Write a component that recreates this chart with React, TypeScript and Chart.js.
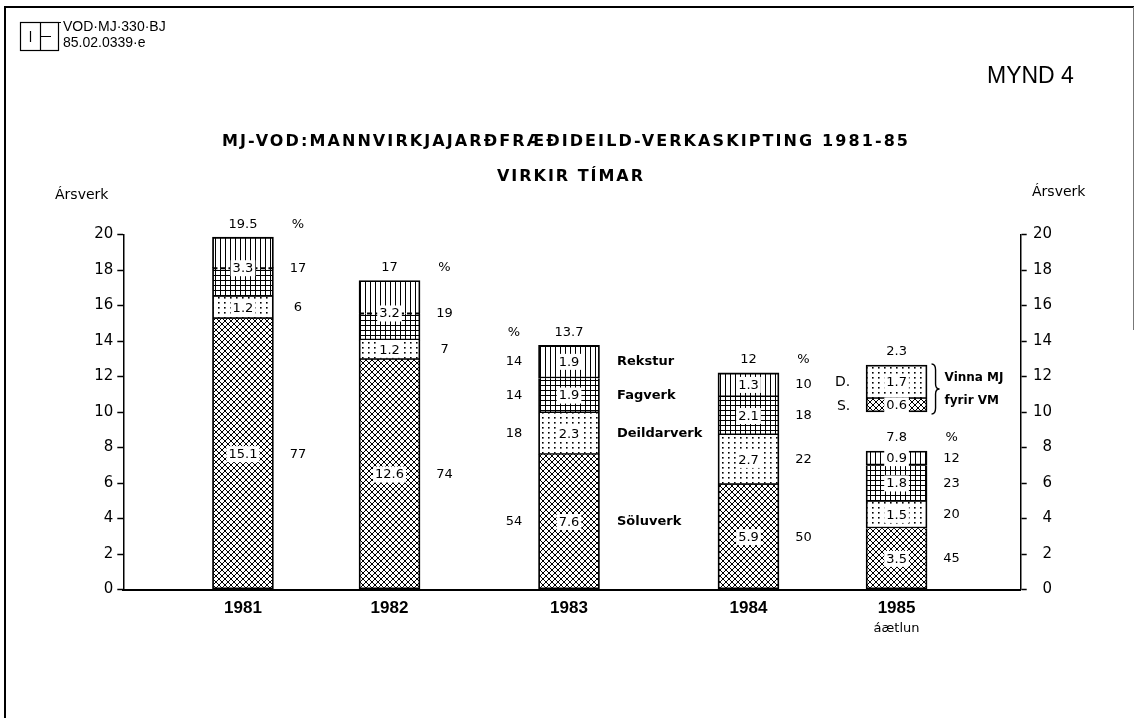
import React, { useEffect, useRef } from 'react';
import { Chart, registerables } from 'chart.js';

Chart.register(...registerables);

// ---------------- data ----------------
const years = ['1981', '1982', '1983', '1984', '1985'];
// drawn segment heights (ársverk)
const soluverk = [15.25, 12.95, 7.6, 5.9, 3.45];
const deildarverk = [1.25, 1.1, 2.35, 2.8, 1.5];
const fagverk = [1.6, 1.5, 1.95, 2.15, 2.05];
const rekstur = [1.75, 1.85, 1.85, 1.35, 0.8];
// 1985 "Vinna MJ fyrir VM" floating bar
const vmStart = 10;
const vmSoluverk = 0.75;
const vmDeildarverk = 1.9;

// printed labels
const soluText = ['15.1', '12.6', '7.6', '5.9', '3.5'];
const deildText = ['1.2', '1.2', '2.3', '2.7', '1.5'];
const fagText = ['3.3', '3.2', '1.9', '2.1', '1.8'];
const rekText: (string | null)[] = [null, null, '1.9', '1.3', '0.9'];
const totalText = ['19.5', '17', '13.7', '12', '7.8'];
const pctSolu = ['77', '74', '54', '50', '45'];
const pctDeild = ['6', '7', '18', '22', '20'];
const pctFag = ['17', '19', '14', '18', '23'];
const pctRek: (string | null)[] = [null, null, '14', '10', '12'];
const vmText = ['0.6', '1.7', '2.3'];
const categoryNames = ['Söluverk', 'Deildarverk', 'Fagverk', 'Rekstur'];

// ---------------- layout / style ----------------
const slots = [4, 8.9, 14.9, 20.9, 25.85];
const X_MAX = 30;
const BAR_W = 61;
const pctSide = [1, 1, -1, 1, 1];
const NAME_BAR = 2;
const VM_BAR = 4;
const DV = '"DejaVu Sans", sans-serif';
const LS = '"Liberation Sans", Arial, sans-serif';

const segs = [soluverk, deildarverk, fagverk, rekstur];
const bounds = years.map((_, i) => {
  const b = [0];
  let acc = 0;
  segs.forEach((s) => {
    acc += s[i];
    b.push(acc);
  });
  return b;
});

function makePattern(kind: string): CanvasPattern | string {
  const c = document.createElement('canvas');
  const size: Record<string, [number, number]> = {
    cross: [6, 6],
    dots: [6, 5],
    grid: [5, 5],
    vert: [5, 5],
  };
  const [w, h] = size[kind];
  c.width = w;
  c.height = h;
  const g = c.getContext('2d')!;
  g.fillStyle = '#fff';
  g.fillRect(0, 0, w, h);
  g.strokeStyle = '#000';
  g.fillStyle = '#000';
  g.lineWidth = 1;
  g.beginPath();
  if (kind === 'cross') {
    for (let o = -w; o <= w; o += w) {
      g.moveTo(o, 0);
      g.lineTo(o + w, h);
      g.moveTo(o + w, 0);
      g.lineTo(o, h);
    }
    g.stroke();
  } else if (kind === 'dots') {
    g.fillRect(2, 2, 1.6, 1.6);
  } else if (kind === 'grid') {
    g.moveTo(0.5, 0);
    g.lineTo(0.5, h);
    g.moveTo(0, 0.5);
    g.lineTo(w, 0.5);
    g.stroke();
  } else {
    g.moveTo(0.5, 0);
    g.lineTo(0.5, h);
    g.stroke();
  }
  const p = g.createPattern(c, 'repeat');
  return p || '#888';
}

function text(ctx: CanvasRenderingContext2D, s: string, x: number, y: number, font: string, align: CanvasTextAlign = 'center') {
  ctx.font = font;
  ctx.textAlign = align;
  ctx.textBaseline = 'middle';
  ctx.fillStyle = '#000';
  ctx.fillText(s, x, y);
}

function boxed(ctx: CanvasRenderingContext2D, s: string, x: number, y: number) {
  ctx.font = `13px ${DV}`;
  const w = ctx.measureText(s).width;
  ctx.fillStyle = '#fff';
  ctx.fillRect(x - w / 2 - 2, y - 8, w + 4, 16);
  text(ctx, s, x, y + 0.5, `13px ${DV}`);
}

function spaced(ctx: CanvasRenderingContext2D, s: string, x: number, y: number, font: string, width: number) {
  const anyCtx = ctx as any;
  ctx.font = font;
  anyCtx.letterSpacing = '0px';
  const natural = ctx.measureText(s).width;
  const n = Array.from(s).length;
  const sp = n > 1 ? (width - natural) / (n - 1) : 0;
  anyCtx.letterSpacing = `${sp}px`;
  ctx.textAlign = 'left';
  ctx.textBaseline = 'middle';
  ctx.fillStyle = '#000';
  ctx.fillText(s, x, y);
  anyCtx.letterSpacing = '0px';
}

const annotPlugin = {
  id: 'annot',
  beforeDraw(chart: any) {
    const ctx = chart.ctx;
    ctx.save();
    ctx.fillStyle = '#fff';
    ctx.fillRect(0, 0, chart.width, chart.height);
    ctx.restore();
  },
  afterDatasetsDraw(chart: any) {
    const ctx: CanvasRenderingContext2D = chart.ctx;
    const xs = chart.scales.x;
    const ys = chart.scales.y;
    const X = (v: number) => xs.getPixelForValue(v);
    const Y = (v: number) => ys.getPixelForValue(v);
    const mid = (a: number, b: number) => (Y(a) + Y(b)) / 2;
    ctx.save();
    years.forEach((_, i) => {
      const cx = X(slots[i]);
      const b = bounds[i];
      const combined = rekText[i] == null;
      if (combined) {
        ctx.strokeStyle = '#000';
        ctx.lineWidth = 1.8;
        ctx.setLineDash([5, 3]);
        ctx.beginPath();
        ctx.moveTo(cx - BAR_W / 2, Y(b[3]));
        ctx.lineTo(cx + BAR_W / 2, Y(b[3]));
        ctx.stroke();
        ctx.setLineDash([]);
      }
      boxed(ctx, soluText[i], cx, mid(b[0], b[1]));
      boxed(ctx, deildText[i], cx, mid(b[1], b[2]));
      if (combined) {
        boxed(ctx, fagText[i], cx, Y(b[3]));
      } else {
        boxed(ctx, fagText[i], cx, mid(b[2], b[3]));
        boxed(ctx, rekText[i] as string, cx, mid(b[3], b[4]));
      }
      const px = cx + pctSide[i] * 55;
      const pf = `13px ${DV}`;
      text(ctx, pctSolu[i], px, mid(b[0], b[1]), pf);
      text(ctx, pctDeild[i], px, mid(b[1], b[2]), pf);
      if (combined) {
        text(ctx, pctFag[i], px, Y(b[3]), pf);
      } else {
        text(ctx, pctFag[i], px, mid(b[2], b[3]), pf);
        text(ctx, pctRek[i] as string, px, mid(b[3], b[4]), pf);
      }
      const ty = Y(b[4]) - 13;
      text(ctx, totalText[i], cx, ty, `13px ${DV}`);
      text(ctx, '%', px, ty, `13px ${DV}`);
    });

    // category names beside the 1983 bar
    const nb = bounds[NAME_BAR];
    const nx = X(slots[NAME_BAR]) + 48;
    categoryNames.forEach((nm, k) => {
      text(ctx, nm, nx, mid(nb[k], nb[k + 1]), `bold 13px ${DV}`, 'left');
    });

    // VM floating bar labels
    const vx = X(slots[VM_BAR]);
    const v0 = vmStart;
    const v1 = vmStart + vmSoluverk;
    const v2 = v1 + vmDeildarverk;
    boxed(ctx, vmText[0], vx, mid(v0, v1));
    boxed(ctx, vmText[1], vx, mid(v1, v2));
    text(ctx, vmText[2], vx, Y(v2) - 13, `13px ${DV}`);
    text(ctx, 'D.', vx - 54, mid(v1, v2) + 1, `14px ${DV}`);
    text(ctx, 'S.', vx - 53, mid(v0, v1) + 1, `14px ${DV}`);
    // brace
    const bx = vx + 35;
    const yt = Y(v2) - 1;
    const yb = Y(v0) + 2;
    const ym = (yt + yb) / 2;
    ctx.strokeStyle = '#000';
    ctx.lineWidth = 1.4;
    ctx.beginPath();
    ctx.moveTo(bx, yt);
    ctx.quadraticCurveTo(bx + 4, yt, bx + 4, yt + 6);
    ctx.lineTo(bx + 4, ym - 5);
    ctx.quadraticCurveTo(bx + 4, ym, bx + 8, ym);
    ctx.quadraticCurveTo(bx + 4, ym, bx + 4, ym + 5);
    ctx.lineTo(bx + 4, yb - 6);
    ctx.quadraticCurveTo(bx + 4, yb, bx, yb);
    ctx.stroke();
    text(ctx, 'Vinna MJ', vx + 48, ym - 11.5, `bold 12px ${DV}`, 'left');
    text(ctx, 'fyrir VM', vx + 48, ym + 12, `bold 12px ${DV}`, 'left');
    ctx.restore();
  },
  afterDraw(chart: any) {
    const ctx: CanvasRenderingContext2D = chart.ctx;
    const xs = chart.scales.x;
    ctx.save();
    // frame
    ctx.strokeStyle = '#000';
    ctx.lineWidth = 2;
    ctx.beginPath();
    ctx.moveTo(5, 718);
    ctx.lineTo(5, 7);
    ctx.lineTo(1134, 7);
    ctx.stroke();
    ctx.strokeStyle = '#777';
    ctx.lineWidth = 1;
    ctx.beginPath();
    ctx.moveTo(1133.5, 7);
    ctx.lineTo(1133.5, 330);
    ctx.stroke();
    // logo
    ctx.strokeStyle = '#000';
    ctx.lineWidth = 1.2;
    ctx.strokeRect(20.5, 22.5, 38, 28);
    ctx.beginPath();
    ctx.moveTo(40.5, 22.5);
    ctx.lineTo(40.5, 50.5);
    ctx.moveTo(30.5, 31);
    ctx.lineTo(30.5, 42);
    ctx.moveTo(40.5, 36.5);
    ctx.lineTo(51, 36.5);
    ctx.moveTo(58.5, 22.5);
    ctx.lineTo(61, 22.5);
    ctx.stroke();
    text(ctx, 'VOD·MJ·330·BJ', 63, 27, `14px ${LS}`, 'left');
    text(ctx, '85.02.0339·e', 63, 43, `14px ${LS}`, 'left');
    // heading texts
    text(ctx, 'MYND 4', 987, 77, `23px ${LS}`, 'left');
    spaced(ctx, 'MJ-VOD:MANNVIRKJAJARÐFRÆÐIDEILD-VERKASKIPTING 1981-85', 222, 142, `bold 16px ${DV}`, 686);
    spaced(ctx, 'VIRKIR TÍMAR', 497, 177, `bold 16px ${DV}`, 146);
    text(ctx, 'Ársverk', 55, 195, `14px ${DV}`, 'left');
    text(ctx, 'Ársverk', 1032, 192, `14px ${DV}`, 'left');
    text(ctx, 'áætlun', xs.getPixelForValue(slots[VM_BAR]), 629, `13px ${DV}`);
    ctx.restore();
  },
};

export default function App() {
  const ref = useRef<HTMLCanvasElement | null>(null);
  useEffect(() => {
    document.body.style.margin = '0';
    const canvas = ref.current!;
    const pCross = makePattern('cross');
    const pDots = makePattern('dots');
    const pGrid = makePattern('grid');
    const pVert = makePattern('vert');
    const patterns = [pCross, pDots, pGrid, pVert];

    const common = {
      borderColor: '#000',
      borderWidth: 1.8,
      barThickness: BAR_W,
      grouped: false,
    };
    const datasets: any[] = segs.map((_, k) => ({
      ...common,
      label: categoryNames[k],
      backgroundColor: patterns[k],
      borderSkipped:
        k < 3 ? 'top' : (c: any) => (rekText[c.dataIndex] == null ? 'bottom' : false),
      data: years.map((_, i) => ({ x: slots[i], y: [bounds[i][k], bounds[i][k + 1]] })),
    }));
    datasets.push({
      ...common,
      label: 'VM S',
      backgroundColor: pCross,
      borderSkipped: 'top',
      data: [{ x: slots[VM_BAR], y: [vmStart, vmStart + vmSoluverk] }],
    });
    datasets.push({
      ...common,
      label: 'VM D',
      backgroundColor: pDots,
      borderSkipped: false,
      data: [{ x: slots[VM_BAR], y: [vmStart + vmSoluverk, vmStart + vmSoluverk + vmDeildarverk] }],
    });

    const yTickFont = { family: DV, size: 15 };
    const chart = new Chart(canvas, {
      type: 'bar',
      data: { datasets },
      plugins: [annotPlugin],
      options: {
        responsive: false,
        animation: false,
        devicePixelRatio: 1,
        layout: { padding: { top: 234.5, right: 85, bottom: 0, left: 0 } },
        plugins: { legend: { display: false }, tooltip: { enabled: false }, title: { display: false } },
        scales: {
          x: {
            type: 'linear',
            offset: false,
            min: 0,
            max: X_MAX,
            afterBuildTicks: (s: any) => {
              s.ticks = slots.map((v) => ({ value: v }));
            },
            afterFit: (s: any) => {
              s.height = 718 - 589.5;
            },
            grid: { display: true, drawOnChartArea: false, drawTicks: false },
            border: { display: true, color: '#000', width: 2 },
            ticks: {
              autoSkip: false,
              maxRotation: 0,
              padding: 9,
              color: '#000',
              font: { family: LS, size: 17, weight: 'bold' },
              callback: (_v: any, i: number) => years[i] ?? '',
            },
          },
          y: {
            position: 'left',
            min: 0,
            max: 20,
            afterFit: (s: any) => {
              s.width = 123.3;
            },
            ticks: { stepSize: 2, padding: 4, color: '#000', font: yTickFont },
            grid: { drawOnChartArea: false, drawTicks: true, tickLength: 6, tickColor: '#000', tickWidth: 1.5 },
            border: { display: true, color: '#000', width: 1.5 },
          },
          y2: {
            position: 'right',
            min: 0,
            max: 20,
            afterFit: (s: any) => {
              s.width = 31.3;
            },
            ticks: { stepSize: 2, padding: 6, crossAlign: 'far', color: '#000', font: yTickFont },
            grid: { drawOnChartArea: false, drawTicks: true, tickLength: 6, tickColor: '#000', tickWidth: 1.5 },
            border: { display: true, color: '#000', width: 1.5 },
          },
        },
      } as any,
    });
    return () => chart.destroy();
  }, []);
  return (
    <div style={{ position: 'absolute', left: 0, top: 0, width: 1137, height: 718 }}>
      <canvas ref={ref} width={1137} height={718} style={{ display: 'block' }} />
    </div>
  );
}
